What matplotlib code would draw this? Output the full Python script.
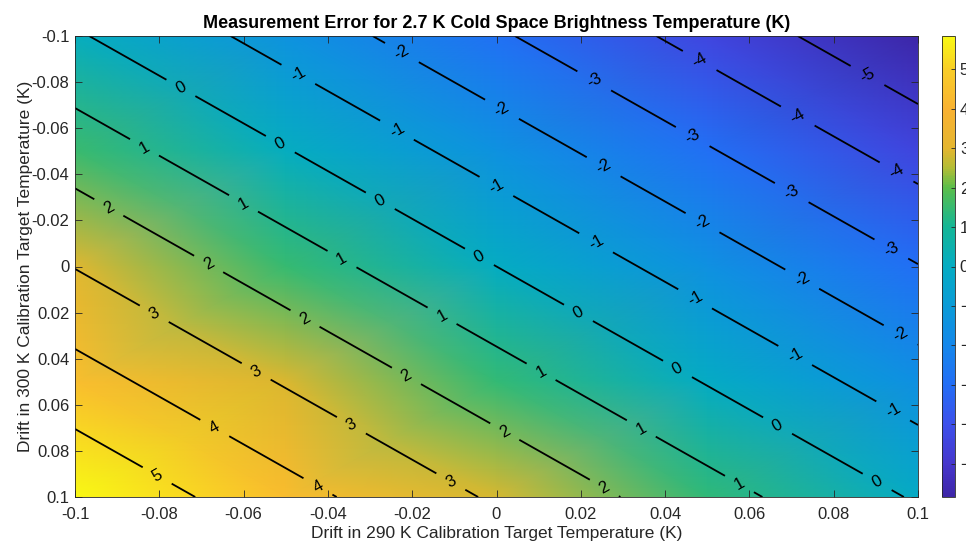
import matplotlib
matplotlib.use("Agg")
import matplotlib.pyplot as plt
import numpy as np
from matplotlib.colors import LinearSegmentedColormap, Normalize

plt.rcParams['font.family'] = ['Liberation Sans', 'DejaVu Sans']

drift_290 = [-0.1, -0.05, 0.0, 0.05, 0.1]
drift_300 = [-0.1, -0.05, 0.0, 0.05, 0.1]
error_rows = [
    [0.10, -1.39, -2.87, -4.36, -5.85],   # drift_300 = -0.1
    [1.54, 0.05, -1.44, -2.92, -4.41],    # drift_300 = -0.05
    [2.97, 1.49, 0.00, -1.49, -2.97],     # drift_300 = 0
    [4.41, 2.92, 1.44, -0.05, -1.54],     # drift_300 = 0.05
    [5.85, 4.36, 2.87, 1.39, -0.10],      # drift_300 = 0.1
]
levels = [-5, -4, -3, -2, -1, 0, 1, 2, 3, 4, 5]

# label hints along each contour (data coords)
label_spots = [
    (-0.0815, 0.0939), (-0.0675, 0.0722), (-0.0431, 0.0978),
    (-0.0815, 0.0215), (-0.0571, 0.0458), (-0.0348, 0.0701), (-0.0113, 0.0948),
    (-0.0922, -0.0249), (-0.0687, 0.0002), (-0.0459, 0.0241), (-0.0219, 0.0492),
    (0.0015, 0.0731), (0.0253, 0.0970),
    (-0.0836, -0.0514), (-0.0601, -0.0271), (-0.0369, -0.0024), (-0.0132, 0.0223),
    (0.0103, 0.0466), (0.0340, 0.0714), (0.0575, 0.0948),
    (-0.0749, -0.0774), (-0.0514, -0.0527), (-0.0276, -0.0284), (-0.0042, -0.0037),
    (0.0193, 0.0206), (0.0428, 0.0449), (0.0665, 0.0696), (0.0903, 0.0935),
    (-0.0471, -0.0831), (-0.0236, -0.0592), (-0.0001, -0.0345), (0.0236, -0.0102),
    (0.0471, 0.0141), (0.0708, 0.0388), (0.0941, 0.0627),
    (-0.0229, -0.0913), (0.0008, -0.0666), (0.0250, -0.0419), (0.0483, -0.0171),
    (0.0720, 0.0072), (0.0953, 0.0315),
    (0.0229, -0.0796), (0.0461, -0.0549), (0.0696, -0.0306), (0.0934, -0.0067),
    (0.0476, -0.0874), (0.0708, -0.0631), (0.0941, -0.0384),
    (0.0858, -0.0757),
]

# parula-like colours sampled from the colorbar
cmap_vals = [-5.85, -5, -4, -3, -2, -1, 0, 1, 2, 2.5, 3, 4, 5, 5.85]
cmap_cols = ["#3e26a8", "#4637cd", "#3c50eb", "#236ef5", "#1487eb", "#0a9bd7",
             "#05acc3", "#14b696", "#5abe4b", "#b1bd36", "#e4b62f", "#f9b232",
             "#f9cd28", "#f9f914"]

E = np.array(error_rows)
vmin, vmax = E.min(), E.max()
pos = [(v - vmin) / (vmax - vmin) for v in cmap_vals]
cmap = LinearSegmentedColormap.from_list("parula_like", list(zip(pos, cmap_cols)))

fig = plt.figure(figsize=(9.66, 5.45), dpi=100)
ax = fig.add_axes([75 / 966, 1 - 497 / 545, 843 / 966, 461 / 545])

mesh = ax.pcolormesh(drift_290, drift_300, E, cmap=cmap, shading='gouraud',
                     norm=Normalize(vmin, vmax))
cs = ax.contour(drift_290, drift_300, E, levels=levels, colors='black',
                linewidths=1.3, linestyles='solid', negative_linestyles='solid')
ax.clabel(cs, fmt='%d', fontsize=12, inline=True, inline_spacing=12,
          manual=label_spots)

ax.set_xlim(-0.1, 0.1)
ax.set_ylim(0.1, -0.1)
ax.set_xticks(np.arange(-0.1, 0.1001, 0.02))
ax.set_yticks(np.arange(-0.1, 0.1001, 0.02))
fmt = lambda v, p: '0' if abs(v) < 1e-9 else ('%g' % round(v, 2))
ax.xaxis.set_major_formatter(plt.FuncFormatter(fmt))
ax.yaxis.set_major_formatter(plt.FuncFormatter(fmt))
ax.tick_params(direction='in', top=True, right=True, length=5, width=0.6,
               labelsize=12, colors='#262626', pad=4)
ax.tick_params(axis='x', pad=7)
for s in ax.spines.values():
    s.set_color('#262626')
    s.set_linewidth(0.6)

ax.set_xlabel('Drift in 290 K Calibration Target Temperature (K)', fontsize=12.5,
              color='#262626', labelpad=3)
ax.set_ylabel('Drift in 300 K Calibration Target Temperature (K)', fontsize=12.5,
              color='#262626', labelpad=-1)
ax.set_title('Measurement Error for 2.7 K Cold Space Brightness Temperature (K)',
             fontsize=13, fontweight='bold', pad=6)

cax = fig.add_axes([942 / 966, 1 - 497 / 545, 13 / 966, 461 / 545])
cb = fig.colorbar(mesh, cax=cax, ticks=levels)
cb.ax.tick_params(direction='in', length=3, width=0.6, labelsize=12,
                  colors='#262626')
cb.outline.set_edgecolor('#262626')
cb.outline.set_linewidth(0.6)

fig.savefig('out.png', dpi=100)
